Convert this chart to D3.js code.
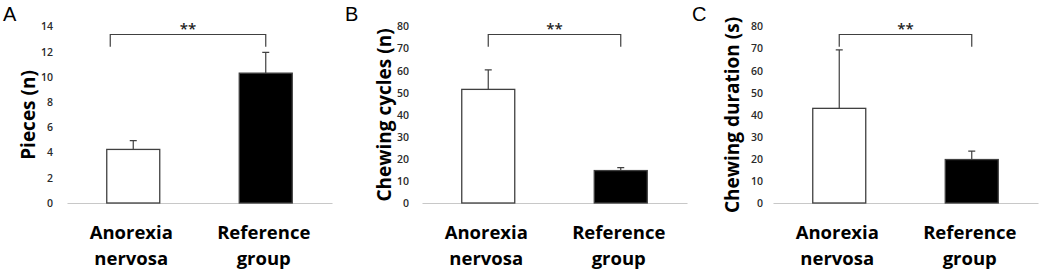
<!DOCTYPE html>
<meta charset="utf-8">
<script src="https://d3js.org/d3.v7.min.js"></script>
<style>
  body { margin: 0; background: #fff; }
  .tick text { font-family: 'Open Sans', sans-serif; }
</style>
<div id="chart"></div>
<script>

// data
const groups = ["Anorexia nervosa", "Reference group"];

const piecesMean = [4.25, 10.3];
const piecesErr  = [0.7, 1.65];
const piecesTicks = [0, 2, 4, 6, 8, 10, 12, 14];

const cyclesMean = [51.5, 14.7];
const cyclesErr  = [8.8, 1.3];
const cyclesTicks = [0, 10, 20, 30, 40, 50, 60, 70, 80];

const durationMean = [42.9, 19.7];
const durationErr  = [26.5, 3.8];
const durationTicks = [0, 10, 20, 30, 40, 50, 60, 70, 80];

const panelLetters = ["A", "B", "C"];
const yTitles = ["Pieces (n)", "Chewing cycles (n)", "Chewing duration (s)"];
const signif = ["**", "**", "**"];

const W = 1040, H = 274;
const plotTop = 26.5, base = 203;

// layout of each panel (pixel placement only)
const panels = [
  {mean: piecesMean, err: piecesErr, ticks: piecesTicks, x0: 67, x1: 332, titleX: 28, letterX: 3, pad: 14, brL: -23},
  {mean: cyclesMean, err: cyclesErr, ticks: cyclesTicks, x0: 422, x1: 687, titleX: 384, letterX: 345, pad: 13, brL: 0},
  {mean: durationMean, err: durationErr, ticks: durationTicks, x0: 773, x1: 1038, titleX: 732, letterX: 692, pad: 10, brL: 0}
];

const svg = d3.select("#chart").append("svg")
  .attr("width", W)
  .attr("height", H);

const ink = "#404040";

panels.forEach(function(p, i) {
  const g = svg.append("g");

  const x = d3.scaleBand()
    .domain(groups)
    .range([p.x0, p.x1])
    .paddingInner(0.6)
    .paddingOuter(0.3);

  const y = d3.scaleLinear()
    .domain([0, d3.max(p.ticks)])
    .range([base, plotTop]);

  // y axis: labels only
  const ya = g.append("g")
    .attr("transform", `translate(${p.x0},0)`)
    .call(d3.axisLeft(y).tickValues(p.ticks).tickSize(0).tickPadding(p.pad));
  ya.select(".domain").remove();
  ya.selectAll("text")
    .attr("font-size", 10.5)
    .attr("font-weight", 600)
    .attr("fill", "#2a2a2a");

  // baseline + two-line category labels
  const xa = g.append("g")
    .attr("transform", `translate(0,${base})`)
    .call(d3.axisBottom(x).tickSize(0).tickFormat(""));
  xa.select(".domain").attr("stroke", "#c8c8c8").attr("stroke-width", 1.2);

  groups.forEach(function(d) {
    const words = d.split(" ");
    const lx = x(d) + x.bandwidth() / 2 - 2;
    const t = g.append("text")
      .attr("text-anchor", "middle")
      .attr("font-family", "'Open Sans', sans-serif")
      .attr("font-weight", "bold")
      .attr("font-size", 18.5)
      .attr("fill", "#000");
    t.append("tspan").attr("x", lx).attr("y", 239).text(words[0]);
    t.append("tspan").attr("x", lx).attr("y", 265).text(words[1]);
  });

  // bars
  g.selectAll(".bar")
    .data(p.mean)
    .join("rect")
    .attr("class", "bar")
    .attr("x", (d, j) => x(groups[j]))
    .attr("y", d => y(d))
    .attr("width", x.bandwidth())
    .attr("height", d => base - y(d))
    .attr("fill", (d, j) => j === 0 ? "#fff" : "#000")
    .attr("stroke", ink)
    .attr("stroke-width", 1.3);

  // upper error bars
  const cx = j => x(groups[j]) + x.bandwidth() / 2;
  g.selectAll(".err")
    .data(p.mean)
    .join("path")
    .attr("class", "err")
    .attr("d", (d, j) => `M${cx(j)},${y(d)}V${y(d + p.err[j])}M${cx(j) - 3.5},${y(d + p.err[j])}H${cx(j) + 3.5}`)
    .attr("fill", "none")
    .attr("stroke", ink)
    .attr("stroke-width", 1.2);

  // significance bracket
  const bl = cx(0) + p.brL, br = cx(1);
  g.append("path")
    .attr("d", `M${bl},46.7V34.5H${br}V46.7`)
    .attr("fill", "none")
    .attr("stroke", ink)
    .attr("stroke-width", 1.2);
  g.append("text")
    .attr("x", (bl + br) / 2)
    .attr("y", 34)
    .attr("text-anchor", "middle")
    .attr("font-family", "'Open Sans', sans-serif")
    .attr("font-weight", 600)
    .attr("font-size", 15)
    .attr("fill", "#222")
    .text(signif[i]);

  // y title
  g.append("text")
    .attr("transform", `translate(${p.titleX},115) rotate(-90)`)
    .attr("dy", "0.35em")
    .attr("text-anchor", "middle")
    .attr("font-family", "'Open Sans', sans-serif")
    .attr("font-weight", "bold")
    .attr("font-size", 19)
    .attr("fill", "#000")
    .text(yTitles[i]);

  // panel letter
  g.append("text")
    .attr("x", p.letterX)
    .attr("y", 21)
    .attr("font-family", "'Liberation Sans', Arial, sans-serif")
    .attr("font-size", 20)
    .attr("fill", "#000")
    .text(panelLetters[i]);
});

</script>
